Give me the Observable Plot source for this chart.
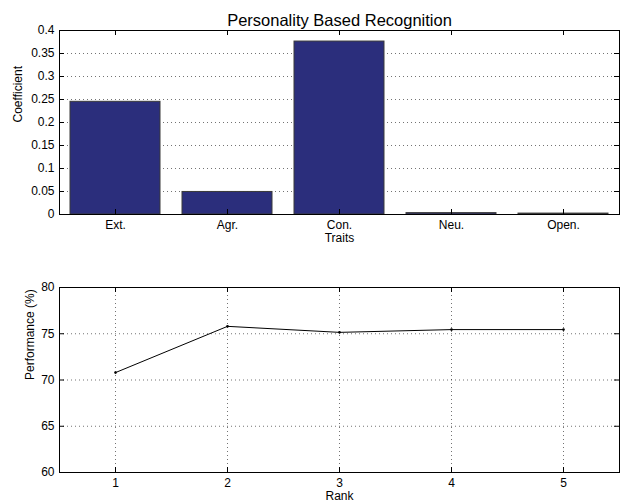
<!DOCTYPE html>
<html>
<head>
<meta charset="utf-8">
<script src="https://cdn.jsdelivr.net/npm/d3@7"></script>
<script src="https://cdn.jsdelivr.net/npm/@observablehq/plot@0.6"></script>
<style>
  html, body { margin: 0; padding: 0; background: #fff; }
  #chart svg { display: block; }
</style>
</head>
<body>
<div id="chart"></div>
<script>
const title = "Personality Based Recognition";
const traits = ["Ext.", "Agr.", "Con.", "Neu.", "Open."];
const coefficients = [0.245, 0.049, 0.376, 0.003, 0.002];
const coefTicks = [0, 0.05, 0.1, 0.15, 0.2, 0.25, 0.3, 0.35, 0.4];

const ranks = [1, 2, 3, 4, 5];
const performance = [70.8, 75.8, 75.15, 75.45, 75.45];
const perfTicks = [60, 65, 70, 75, 80];

const barData = traits.map((t, i) => ({trait: t, coef: coefficients[i]}));
const lineData = ranks.map((r, i) => ({rank: r, perf: performance[i]}));

const W = 623;
const font = "'Liberation Sans', Arial, Helvetica, sans-serif";
const gridStyle = {stroke: "#000", strokeOpacity: 0.55, strokeDasharray: "1,3", strokeWidth: 1};
const TL = 5; // inward tick length

// Top chart
const topH = 250, topMT = 30, topMB = 36, ML = 59, MR = 4;
const topPW = W - ML - MR, topPH = topH - topMT - topMB;

const topChart = Plot.plot({
  width: W, height: topH,
  marginTop: topMT, marginBottom: topMB, marginLeft: ML, marginRight: MR,
  style: {fontFamily: font, fontSize: "12px", color: "#000", background: "#fff", overflow: "visible"},
  x: {type: "band", domain: traits, paddingInner: 0.2, paddingOuter: 0.1, label: null},
  y: {domain: [0, 0.4], label: null},
  marks: [
    Plot.gridY(coefTicks.slice(1, -1), gridStyle),
    Plot.barY(barData, {x: "trait", y: "coef", fill: "#2b2e7c", stroke: "#3a3a3a", strokeWidth: 1}),
    Plot.frame({stroke: "#000", strokeWidth: 1}),
    Plot.axisY({ticks: coefTicks, tickSize: 0, tickPadding: 5, tickFormat: d => String(d), label: null}),
    Plot.axisX({tickSize: 0, tickPadding: 6, label: null}),
    Plot.tickY(coefTicks, {y: d => d, insetRight: topPW - TL, stroke: "#000"}),
    Plot.tickY(coefTicks, {y: d => d, insetLeft: topPW - TL, stroke: "#000"}),
    Plot.tickX(traits, {x: d => d, insetTop: topPH - TL, stroke: "#000"}),
    Plot.tickX(traits, {x: d => d, insetBottom: topPH - TL, stroke: "#000"}),
    Plot.text([title], {frameAnchor: "top", dy: -16.5, text: d => d, fontSize: 16.5}),
    Plot.text(["Coefficient"], {frameAnchor: "left", dx: -41, rotate: -90, text: d => d}),
    Plot.text(["Traits"], {frameAnchor: "bottom", dy: 27, text: d => d})
  ]
});

// Bottom chart
const botH = 254, botMT = 37, botMB = 32;
const botPW = W - ML - MR, botPH = botH - botMT - botMB;

const bottomChart = Plot.plot({
  width: W, height: botH,
  marginTop: botMT, marginBottom: botMB, marginLeft: ML, marginRight: MR,
  style: {fontFamily: font, fontSize: "12px", color: "#000", background: "#fff", overflow: "visible"},
  x: {domain: [0.5, 5.5], label: null},
  y: {domain: [60, 80], label: null},
  marks: [
    Plot.gridY(perfTicks.slice(1, -1), gridStyle),
    Plot.gridX(ranks, gridStyle),
    Plot.line(lineData, {x: "rank", y: "perf", stroke: "#000", strokeWidth: 1}),
    Plot.dot(lineData, {x: "rank", y: "perf", r: 1.3, fill: "#000", stroke: null}),
    Plot.frame({stroke: "#000", strokeWidth: 1}),
    Plot.axisY({ticks: perfTicks, tickSize: 0, tickPadding: 5, tickFormat: d => String(d), label: null}),
    Plot.axisX({ticks: ranks, tickSize: 0, tickPadding: 6, tickFormat: d => String(d), label: null}),
    Plot.tickY(perfTicks, {y: d => d, insetRight: botPW - TL, stroke: "#000"}),
    Plot.tickY(perfTicks, {y: d => d, insetLeft: botPW - TL, stroke: "#000"}),
    Plot.tickX(ranks, {x: d => d, insetTop: botPH - TL, stroke: "#000"}),
    Plot.tickX(ranks, {x: d => d, insetBottom: botPH - TL, stroke: "#000"}),
    Plot.text(["Performance (%)"], {frameAnchor: "left", dx: -29, rotate: -90, text: d => d}),
    Plot.text(["Rank"], {frameAnchor: "bottom", dy: 27, text: d => d})
  ]
});

const el = document.getElementById("chart");
el.appendChild(topChart);
el.appendChild(bottomChart);
</script>
</body>
</html>
